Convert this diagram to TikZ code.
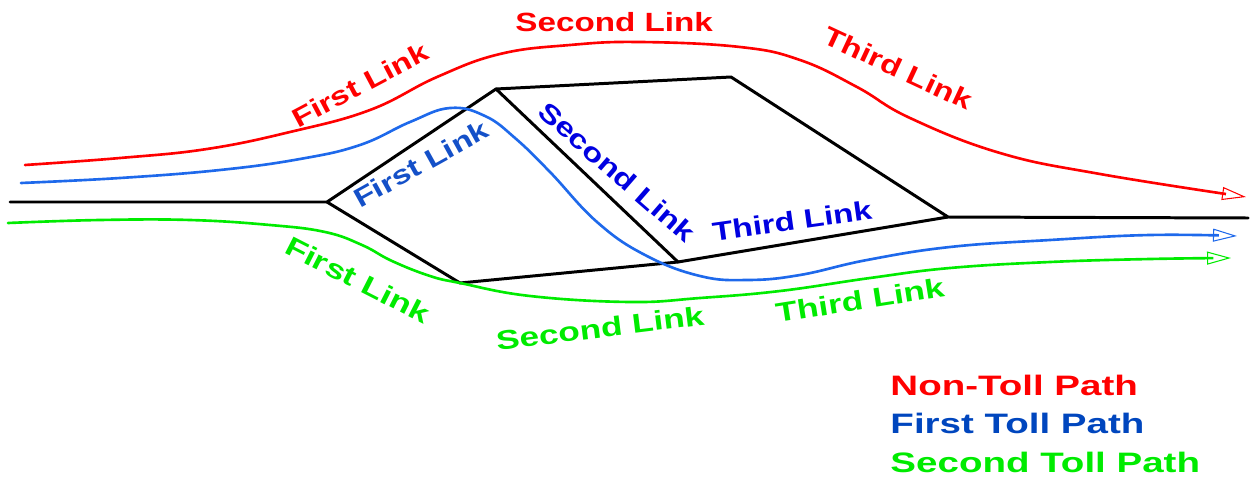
\documentclass[tikz,border=0pt]{standalone}
\usepackage{fontspec}
\setmainfont{Liberation Sans}
\usetikzlibrary{arrows.meta}
\definecolor{rd}{RGB}{255,0,0}
\definecolor{bl}{RGB}{30,105,235}
\definecolor{bldark}{RGB}{20,80,200}
\definecolor{blpure}{RGB}{0,0,225}
\definecolor{gr}{RGB}{0,235,0}
\definecolor{legblue}{RGB}{0,70,190}
\begin{document}
\begin{tikzpicture}[x=0.02cm,y=-0.02cm,
  road/.style={line width=1.7pt, line join=round, line cap=round},
  tollpath/.style={line width=1.5pt, line cap=round,
    -{Triangle[open, length=0.48cm, width=0.26cm, line width=0.6pt]}},
  lbl/.style={font=\bfseries\fontsize{15}{15}\selectfont, inner sep=0pt, xscale=1.26},
  lblg/.style={font=\bfseries\fontsize{15.3}{15}\selectfont, inner sep=0pt, xscale=1.31},
  leg/.style={font=\bfseries\fontsize{16}{16}\selectfont, inner sep=0pt, xscale=1.37, anchor=base west}]
\useasboundingbox (0,0) rectangle (1253,483);

% road network
\coordinate (L0) at (10,202);
\coordinate (A) at (327,202);
\coordinate (B) at (496,89);
\coordinate (C) at (731,77);
\coordinate (D) at (948,217);
\coordinate (E) at (460,283);
\coordinate (F) at (678,262);
\coordinate (R0) at (1248,218);
\draw[road] (L0) -- (A) -- (B) -- (C) -- (D) -- (R0);
\draw[road] (A) -- (E) -- (F) -- (D);
\draw[road] (B) -- (F);

% non-toll path (red)
\draw[tollpath, rd] plot[smooth, tension=0.7] coordinates {
  (25,165) (120,158) (207,149) (290,132) (370,110) (437,77) (500,54)
  (570,45) (640,42) (740,47) (800,60) (857,87) (910,118) (1000,153)
  (1100,174) (1246,197)};

% first toll path (blue)
\draw[tollpath, bl] plot[smooth, tension=0.7] coordinates {
  (21,183) (120,178) (220,170) (300,159) (360,145) (410,122) (450,108)
  (485,116) (515,138) (550,172) (597,222) (645,255) (700,276) (748,280)
  (800,275) (867,260) (950,247) (1050,240) (1150,235) (1237,236)};

% second toll path (green)
\draw[tollpath, gr] plot[smooth, tension=0.7] coordinates {
  (8,223) (100,220) (190,220) (270,225) (325,232) (362,245) (392,261)
  (430,276) (460,283) (530,296) (630,302) (700,298) (780,291) (870,278)
  (950,268) (1050,262) (1150,259) (1231,258)};

% red labels
\node[rotate=28, lbl, text=rd] (r1) at (360,85) {First Link};
\node[lbl, text=rd, anchor=base west] (r2) at (515,32) {Second Link};
\node[rotate=-25, lbl, text=rd] (r3) at (898,68) {Third Link};

% blue labels
\node[rotate=29, lbl, text=bldark] (b1) at (421,164) {First Link};
\node[rotate=-41, lbl, text=blpure] (b2) at (617,172) {Second Link};
\node[rotate=8, lbl, text=blpure] (b3) at (792,221) {Third Link};

% green labels
\node[rotate=-27, lblg, text=gr] (g1) at (358,280) {First Link};
\node[rotate=7, lblg, text=gr] (g2) at (600,328) {Second Link};
\node[rotate=9, lblg, text=gr] (g3) at (860,300) {Third Link};

% legend
\node[leg, text=rd] (l1) at (890,395) {Non-Toll Path};
\node[leg, text=legblue] (l2) at (890,433) {First Toll Path};
\node[leg, text=gr] (l3) at (890,472) {Second Toll Path};
\end{tikzpicture}
\end{document}
